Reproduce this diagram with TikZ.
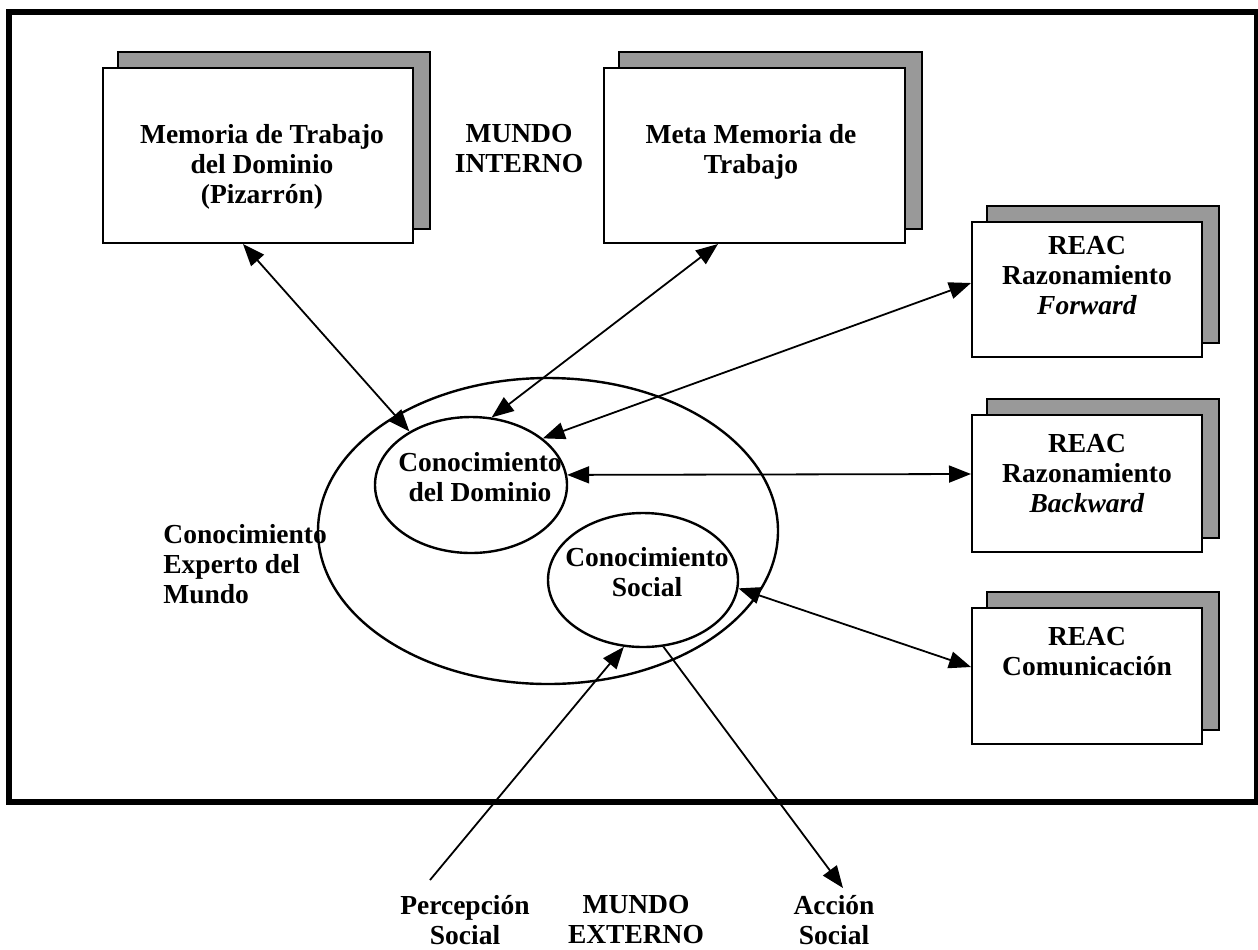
\documentclass[tikz,border=0pt]{standalone}
\usepackage{fontspec}
\setmainfont{Liberation Serif}
\usetikzlibrary{arrows.meta,shapes.geometric,backgrounds}
\begin{document}
\begin{tikzpicture}[x=0.5pt,y=-0.5pt,
  every node/.style={font=\fontsize{13.75}{15}\selectfont\bfseries, inner sep=0pt},
  box/.style={draw, line width=1pt, fill=white, rectangle},
  boxshadow/.style={draw, line width=0.8pt, fill=black!40},
  txt/.style={align=center, anchor=north},
  oval/.style={draw, ellipse, line width=1.2pt},
  link/.style={line width=0.9pt, -{Triangle[length=11pt,width=8.5pt]}},
  dlink/.style={line width=0.9pt, {Triangle[length=11pt,width=8.5pt]}-{Triangle[length=11pt,width=8.5pt]}}
]
\useasboundingbox (0,0) rectangle (1258,949);

% outer frame of the internal world
\draw[line width=3pt] (9,12) rectangle (1257,802);

% working memories and REAC modules
\node[box, minimum width=155pt, minimum height=87.5pt] (wm) at (258,155.5) {};
\node[box, minimum width=150.5pt, minimum height=87.5pt] (mm) at (754.5,155.5) {};
\node[box, minimum width=115pt, minimum height=67.5pt] (fw) at (1087,289.5) {};
\node[box, minimum width=115pt, minimum height=68.5pt] (bw) at (1087,483.5) {};
\node[box, minimum width=115pt, minimum height=68pt] (cm) at (1087,676) {};

\begin{scope}[on background layer]
  \foreach \n in {wm,mm,fw,bw,cm}
    \draw[boxshadow] ([shift={(16,-15)}]\n.south west) rectangle ([shift={(16,-15)}]\n.north east);
\end{scope}

\node[txt] (wmt) at (262,124) {Memoria de Trabajo\\del Dominio\\(Pizarrón)};
\node[txt] (mmt) at (751,124) {Meta Memoria de\\Trabajo};
\node[txt] (mi) at (519,124) {MUNDO\\INTERNO};
\node[txt] (fwt) at (1087,236) {REAC\\Razonamiento\\\textit{Forward}};
\node[txt] (bwt) at (1087,434) {REAC\\Razonamiento\\\textit{Backward}};
\node[txt] (cmt) at (1087,627) {REAC\\Comunicación};

% knowledge ellipses
\node[oval, minimum width=230pt, minimum height=153pt] (world) at (548,531) {};
\node[oval, minimum width=96pt, minimum height=68pt] (dom) at (471,485) {};
\node[oval, minimum width=95pt, minimum height=67pt] (soc) at (643,580) {};
\node[txt] (domt) at (480,452) {Conocimiento\\del Dominio};
\node[txt] (soct) at (647,547) {Conocimiento\\Social};
\node[align=left, anchor=north west] (exp) at (163,524) {Conocimiento\\Experto del\\Mundo};

% external world
\node[txt] (perc) at (465,895) {Percepción\\Social};
\node[txt] (mext) at (636,895) {MUNDO\\EXTERNO};
\node[txt] (acc) at (834,895) {Acción\\Social};
\coordinate (pin) at (430,880);
\coordinate (act) at (843,888);

% connectors
\draw[dlink] ([xshift=-7.5pt]wm.south) -- (dom.139);
\draw[dlink] ([xshift=-18.25pt]mm.south) -- (dom.73);
\draw[dlink] ([yshift=3.25pt]fw.west) -- (dom.33);
\draw[dlink] ([yshift=4.75pt]bw.west) -- (dom.6);
\draw[dlink] ([yshift=4.5pt]cm.west) -- (soc.-5);
\draw[link] (pin) -- (soc.254);
\draw[link] (soc.287) -- (act);
\end{tikzpicture}
\end{document}
